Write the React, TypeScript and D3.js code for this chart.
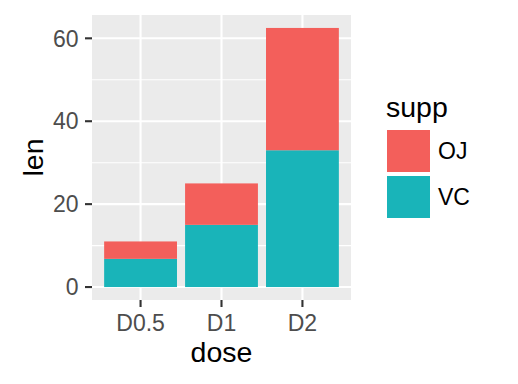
import React from "react";
import * as d3 from "d3";

const doses = ["D0.5", "D1", "D2"];
const supps = ["OJ", "VC"];
const lenOJ = [4.2, 10, 29.5];
const lenVC = [6.8, 15, 33];
const yTicks = [0, 20, 40, 60];
const yMinor = [10, 30, 50];
const colors = ["#F35F5B", "#19B4B9"];

const W = 518, H = 384;
const P = { left: 92, right: 351, top: 15, bottom: 300 };
const FONT = "'Liberation Sans', Arial, sans-serif";

export default function App() {
  const totals = doses.map((_, i) => lenOJ[i] + lenVC[i]);
  const maxY = d3.max(totals) as number;
  const pad = maxY * 0.05;
  const y = d3.scaleLinear().domain([-pad, maxY + pad]).range([P.bottom, P.top]);
  const x = d3.scaleBand<string>().domain(doses).range([P.left, P.right]).paddingInner(0.1).paddingOuter(0.15);
  const xc = (d: string) => (x(d) as number) + x.bandwidth() / 2;

  // stack: VC bottom, OJ top
  const rows = doses.map((d, i) => ({ dose: d, OJ: lenOJ[i], VC: lenVC[i] }));
  const stack = d3.stack<any>().keys(["VC", "OJ"])(rows);

  return (
    <svg width={W} height={H} style={{ display: "block", position: "absolute", left: 0, top: 0 }}>
      <rect x={0} y={0} width={W} height={H} fill="#fff" />
      <rect x={P.left} y={P.top} width={P.right - P.left} height={P.bottom - P.top} fill="#EBEBEB" />
      {yMinor.map((t) => (
        <line key={"mn" + t} x1={P.left} x2={P.right} y1={y(t)} y2={y(t)} stroke="#fff" strokeWidth={1.1} />
      ))}
      {yTicks.map((t) => (
        <line key={"mj" + t} x1={P.left} x2={P.right} y1={y(t)} y2={y(t)} stroke="#fff" strokeWidth={2.1} />
      ))}
      {doses.map((d) => (
        <line key={"vx" + d} x1={xc(d)} x2={xc(d)} y1={P.top} y2={P.bottom} stroke="#fff" strokeWidth={2.1} />
      ))}
      {stack.map((layer) => {
        const col = layer.key === "OJ" ? colors[0] : colors[1];
        return layer.map((s, i) => (
          <rect
            key={layer.key + i}
            x={x(doses[i]) as number}
            width={x.bandwidth()}
            y={y(s[1])}
            height={y(s[0]) - y(s[1])}
            fill={col}
          />
        ));
      })}
      {/* y axis */}
      {yTicks.map((t) => (
        <g key={"yt" + t}>
          <line x1={P.left - 7} x2={P.left} y1={y(t)} y2={y(t)} stroke="#333" strokeWidth={2.1} />
          <text x={P.left - 13.5} y={y(t) + 8.2} textAnchor="end" fontFamily={FONT} fontSize={23} fill="#4D4D4D">
            {t}
          </text>
        </g>
      ))}
      {/* x axis */}
      {doses.map((d) => (
        <g key={"xt" + d}>
          <line x1={xc(d)} x2={xc(d)} y1={P.bottom} y2={P.bottom + 7} stroke="#333" strokeWidth={2.1} />
          <text x={xc(d)} y={330.7} textAnchor="middle" fontFamily={FONT} fontSize={23} fill="#4D4D4D">
            {d}
          </text>
        </g>
      ))}
      <text x={(P.left + P.right) / 2} y={362} textAnchor="middle" fontFamily={FONT} fontSize={28.5} fill="#000">
        dose
      </text>
      <text
        transform={`translate(43, ${(P.top + P.bottom) / 2}) rotate(-90)`}
        textAnchor="middle"
        fontFamily={FONT}
        fontSize={28.5}
        fill="#000"
      >
        len
      </text>
      {/* legend */}
      <text x={386} y={116.5} fontFamily={FONT} fontSize={28.5} fill="#000">
        supp
      </text>
      {supps.map((s, i) => (
        <g key={"lg" + s}>
          <rect x={387} y={130 + i * 46} width={43} height={42} fill={colors[i]} />
          <text x={438} y={151 + 8.2 + i * 46} fontFamily={FONT} fontSize={23} fill="#000">
            {s}
          </text>
        </g>
      ))}
    </svg>
  );
}
